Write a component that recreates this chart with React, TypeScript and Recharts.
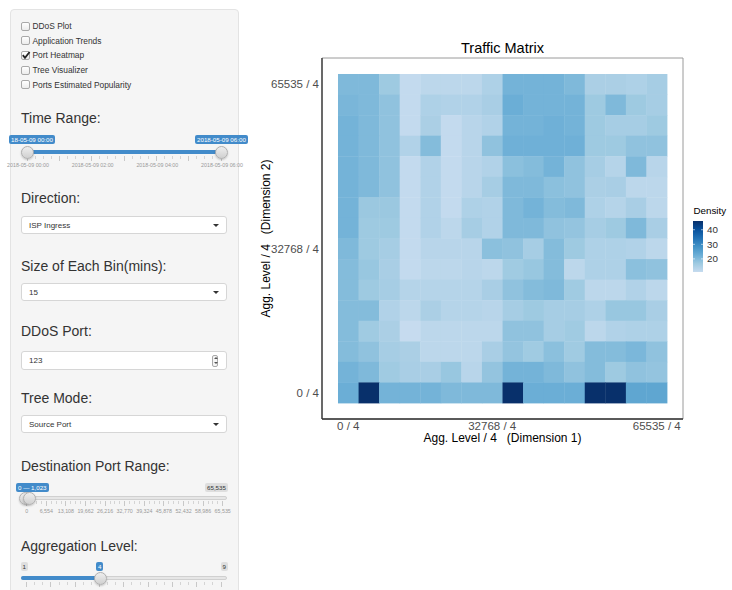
import React from 'react';
import { ScatterChart, Scatter, XAxis, YAxis, ReferenceArea, Label } from 'recharts';

// ---------------- data ----------------
const BIN_INDEX = [0, 1, 2, 3, 4, 5, 6, 7, 8, 9, 10, 11, 12, 13, 14, 15];
const AXIS_TICKS = [0, 7, 15];
const AXIS_TICK_LABELS = ['0 / 4', '32768 / 4', '65535 / 4'];
const LEGEND_BREAKS = [20, 30, 40];
const FILL_LIMITS = [11, 46];

// density per cell, one array per Dimension-2 bin (top row first)
const ROW_15 = [20.4, 20.4, 16.8, 11.5, 12.5, 12.5, 12.5, 14.5, 21.6, 21.6, 21.6, 20.4, 15, 15, 14.5, 15.7];
const ROW_14 = [21, 20.4, 18.4, 11.5, 14.5, 14, 14, 15.3, 22.7, 21.6, 21.6, 21.6, 16.8, 20.4, 16.8, 15.7];
const ROW_13 = [21.6, 20.4, 18.4, 11.5, 15, 11.5, 13, 14, 21.6, 21.6, 22.2, 21.6, 16.8, 15.7, 15.7, 16.8];
const ROW_12 = [21.6, 20.4, 18.4, 14, 19.8, 11.5, 13, 18.4, 22.2, 22.2, 22.2, 22.2, 16.8, 16.8, 18.4, 18.4];
const ROW_11 = [21.6, 20.4, 18.4, 11.5, 14, 11.5, 13, 14, 19, 19.8, 21.6, 18.4, 15.7, 13.5, 20.4, 13];
const ROW_10 = [21.6, 20.4, 18.4, 11.5, 14, 11.5, 13, 15.7, 20.4, 20.4, 19, 18.4, 15, 15.3, 12.5, 12.5];
const ROW_9 = [21.6, 17.2, 17.2, 11.5, 14, 11.5, 14.5, 14, 20.4, 21.6, 19.8, 20.4, 14.5, 13.5, 15.3, 12.5];
const ROW_8 = [21.6, 16.8, 16.8, 11.5, 14, 12.5, 15.7, 14, 20.4, 20.4, 18.4, 18, 15.7, 16.8, 20.4, 15.3];
const ROW_7 = [20.4, 16.8, 15.7, 11.5, 13, 13, 13, 19, 18.4, 15.7, 19.8, 16.8, 14.5, 14.5, 14, 12.5];
const ROW_6 = [19.8, 17.5, 15.3, 11.5, 12.5, 12.5, 13, 12.5, 16.5, 17.5, 19.8, 12.5, 14.5, 14.5, 19, 18.4];
const ROW_5 = [19.8, 16.8, 15.7, 13.5, 13.5, 13.5, 13.5, 15.3, 18.4, 19.8, 20.4, 16.5, 12.5, 12.5, 14, 12.5];
const ROW_4 = [19.8, 19.8, 14, 12.5, 15, 13.5, 13.5, 13, 15.7, 16.8, 15.7, 15.7, 14.5, 17.5, 17.5, 15.3];
const ROW_3 = [19.8, 16.5, 15, 11, 12.5, 12.5, 12.5, 12.5, 18.4, 18.4, 15.7, 16.5, 12.5, 14, 14.5, 14.5];
const ROW_2 = [19.8, 18.4, 15.7, 15, 12.5, 12.5, 12.5, 15.3, 18, 16.5, 19, 16.5, 19.8, 19.8, 20.8, 18.4];
const ROW_1 = [21.6, 20.4, 16.5, 15.3, 15.3, 17.5, 13, 18, 21.6, 21.6, 20.4, 18.4, 19.8, 16.8, 18.4, 18];
const ROW_0 = [22.7, 46, 21.6, 21.6, 21.6, 20.4, 20.4, 20.4, 46, 22.7, 22.7, 22.7, 46, 46, 24.4, 24.4];

const ROWS_TOP_TO_BOTTOM = [
  ROW_15, ROW_14, ROW_13, ROW_12, ROW_11, ROW_10, ROW_9, ROW_8,
  ROW_7, ROW_6, ROW_5, ROW_4, ROW_3, ROW_2, ROW_1, ROW_0,
];

const CELLS = ROWS_TOP_TO_BOTTOM.flatMap((row, r) =>
  row.map((density, c) => ({
    x: BIN_INDEX[c],
    y: BIN_INDEX[BIN_INDEX.length - 1 - r],
    density,
  }))
);

// sidebar content
const CHECKBOX_LABELS = ['DDoS Plot', 'Application Trends', 'Port Heatmap', 'Tree Visualizer', 'Ports Estimated Popularity'];
const CHECKED_LABEL = 'Port Heatmap';
const TIME_GRID_LABELS = ['2018-05-09 00:00', '2018-05-09 02:00', '2018-05-09 04:00', '2018-05-09 06:00'];
const PORT_GRID_LABELS = ['0', '6,554', '13,108', '19,662', '26,216', '32,770', '39,324', '45,878', '52,432', '58,986', '65,535'];

// ---------------- colours ----------------
const BLUES = ['#c6dbef', '#9ecae1', '#6baed6', '#4292c6', '#2171b5', '#08519c', '#08306b'];

function hexToRgb(h: string) {
  const n = parseInt(h.slice(1), 16);
  return [(n >> 16) & 255, (n >> 8) & 255, n & 255];
}
function densityColor(v: number) {
  const t = Math.max(0, Math.min(1, (v - FILL_LIMITS[0]) / (FILL_LIMITS[1] - FILL_LIMITS[0])));
  const pos = t * (BLUES.length - 1);
  const i = Math.min(BLUES.length - 2, Math.floor(pos));
  const f = pos - i;
  const a = hexToRgb(BLUES[i]);
  const b = hexToRgb(BLUES[i + 1]);
  const c = a.map((av, k) => Math.round(av + (b[k] - av) * f));
  return `rgb(${c[0]},${c[1]},${c[2]})`;
}

// ---------------- layout ----------------
const FONT = '"Liberation Sans", Arial, Helvetica, sans-serif';
const CHART_LEFT = 250;
const CHART_W = 482;
const CHART_H = 450;
const Y_AXIS_W = 72;
const PLOT_TOP = 58;
const PLOT_W = 361;
const PLOT_H = 361;
const X_AXIS_H = CHART_H - PLOT_TOP - PLOT_H;
const EXPAND = 0.778;
const D_MIN = BIN_INDEX[0] - 0.5 - EXPAND;
const D_MAX = BIN_INDEX[BIN_INDEX.length - 1] + 0.5 + EXPAND;
const CELL_PX = PLOT_W / (D_MAX - D_MIN);

const tickFmt = (v: number) => AXIS_TICK_LABELS[AXIS_TICKS.indexOf(v)] ?? '';

const renderCell = (props: any) => {
  const { cx, cy, payload } = props;
  if (cx == null || cy == null) return <g />;
  return (
    <rect
      x={cx - CELL_PX / 2}
      y={cy - CELL_PX / 2}
      width={CELL_PX + 0.4}
      height={CELL_PX + 0.4}
      fill={densityColor(payload.density)}
    />
  );
};

// ---------------- sidebar helpers ----------------
const abs = (left: number, top: number, extra: React.CSSProperties = {}): React.CSSProperties => ({
  position: 'absolute',
  left,
  top,
  ...extra,
});

function Heading({ y, text }: { y: number; text: string }) {
  return (
    <div style={abs(21, y - 9, { fontSize: 14, lineHeight: '18px', color: '#333', whiteSpace: 'nowrap' })}>{text}</div>
  );
}

function SelectBox({ top, text }: { top: number; text: string }) {
  return (
    <div
      style={abs(21, top, {
        width: 206,
        height: 18,
        background: '#fff',
        border: '1px solid #d6d6d6',
        borderRadius: 3,
        boxSizing: 'border-box',
      })}
    >
      <div style={abs(7, 0, { fontSize: 8, lineHeight: '17px', color: '#333' })}>{text}</div>
      <div
        style={abs(191, 7, {
          width: 0,
          height: 0,
          borderLeft: '3px solid transparent',
          borderRight: '3px solid transparent',
          borderTop: '3px solid #333',
        })}
      />
    </div>
  );
}

function Bubble({ cx, y, text, blue, left }: { cx?: number; y: number; text: string; blue: boolean; left?: number }) {
  const w = text.length * 3.25 + 4;
  const l = left != null ? left : (cx as number) - w / 2;
  return (
    <div
      style={abs(l, y - 4.5, {
        height: 9,
        padding: '0 2px',
        background: blue ? '#428bca' : '#dedede',
        color: blue ? '#fff' : '#333',
        fontSize: 6.2,
        lineHeight: '9px',
        borderRadius: 2,
        whiteSpace: 'nowrap',
      })}
    >
      {text}
    </div>
  );
}

function Handle({ cx, cy, d = 13 }: { cx: number; cy: number; d?: number }) {
  return (
    <div
      style={abs(cx - d / 2, cy - d / 2, {
        width: d,
        height: d,
        borderRadius: '50%',
        background: 'linear-gradient(#eeeeee, #d0d0d0)',
        border: '1px solid #b0b0b0',
        boxSizing: 'border-box',
        boxShadow: '0 1px 2px rgba(0,0,0,0.2)',
      })}
    />
  );
}

function Grid({ x0, x1, y, bigN, smallN }: { x0: number; x1: number; y: number; bigN: number; smallN: number }) {
  const out: React.ReactNode[] = [];
  const bw = (x1 - x0) / bigN;
  for (let i = 0; i <= bigN; i++) {
    const bx = x0 + i * bw;
    out.push(<div key={'b' + i} style={abs(bx - 0.5, y, { width: 1, height: 5, background: '#c8c8c8' })} />);
    if (i < bigN) {
      for (let s = 1; s <= smallN; s++) {
        const sx = bx + (s * bw) / (smallN + 1);
        out.push(<div key={'s' + i + '-' + s} style={abs(sx - 0.5, y, { width: 1, height: 3, background: '#d4d4d4' })} />);
      }
    }
  }
  return <>{out}</>;
}

function GridLabels({ x0, x1, y, labels }: { x0: number; x1: number; y: number; labels: string[] }) {
  const step = (x1 - x0) / (labels.length - 1);
  return (
    <>
      {labels.map((l, i) => (
        <div
          key={l + i}
          style={abs(x0 + i * step - 30, y - 4, {
            width: 60,
            textAlign: 'center',
            fontSize: 5.3,
            lineHeight: '8px',
            color: '#999',
            whiteSpace: 'nowrap',
          })}
        >
          {l}
        </div>
      ))}
    </>
  );
}

function Sidebar() {
  return (
    <div
      style={abs(10, 9, {
        width: 229,
        height: 600,
        background: '#f5f5f5',
        border: '1px solid #e3e3e3',
        borderRadius: 4,
        boxSizing: 'border-box',
      })}
    >
      {/* children positioned relative to page: offset wrapper */}
      <div style={abs(-11, -10)}>
        {CHECKBOX_LABELS.map((label, i) => {
          const cy = 26 + i * 14.7;
          const checked = label === CHECKED_LABEL;
          return (
            <React.Fragment key={label}>
              <div
                style={abs(21, cy - 4.5, {
                  width: 9,
                  height: 9,
                  border: '1px solid #a9a9a9',
                  borderRadius: 2,
                  background: 'linear-gradient(#ffffff, #ececec)',
                  boxSizing: 'border-box',
                })}
              />
              {checked && (
                <svg style={abs(21, cy - 5.5)} width={10} height={10}>
                  <path d="M1.8 5.2 L4 7.8 L8.6 2" stroke="#222" strokeWidth={1.8} fill="none" />
                </svg>
              )}
              <div
                style={abs(32.5, cy - 6, {
                  fontSize: 8.4,
                  lineHeight: '12px',
                  color: '#333',
                  whiteSpace: 'nowrap',
                })}
              >
                {label}
              </div>
            </React.Fragment>
          );
        })}

        <Heading y={118} text="Time Range:" />
        {/* time slider */}
        <div style={abs(21, 150, { width: 206, height: 4, background: '#dcdcdc', borderRadius: 2 })} />
        <div style={abs(27, 150, { width: 194, height: 4, background: '#428bca' })} />
        <Grid x0={27} x1={221} y={156} bigN={6} smallN={3} />
        <GridLabels x0={28} x1={222} y={165} labels={TIME_GRID_LABELS} />
        <Bubble left={9} y={139.5} text="18-05-09 00:00" blue />
        <Bubble left={195} y={139.5} text="2018-05-09 06:00" blue />
        <Handle cx={27} cy={152} />
        <Handle cx={221} cy={152} />

        <Heading y={198} text="Direction:" />
        <SelectBox top={216} text="ISP Ingress" />

        <Heading y={266} text="Size of Each Bin(mins):" />
        <SelectBox top={283} text="15" />

        <Heading y={331} text="DDoS Port:" />
        <div
          style={abs(21, 351, {
            width: 206,
            height: 19,
            background: '#fff',
            border: '1px solid #d6d6d6',
            borderRadius: 3,
            boxSizing: 'border-box',
          })}
        >
          <div style={abs(7, 0, { fontSize: 8, lineHeight: '17px', color: '#333' })}>123</div>
          <div
            style={abs(190, 2.5, {
              width: 6,
              height: 12,
              border: '1px solid #aaa',
              borderRadius: 2,
              boxSizing: 'border-box',
              background: '#f4f4f4',
            })}
          >
            <div style={abs(0.5, 1.5, { width: 0, height: 0, borderLeft: '2px solid transparent', borderRight: '2px solid transparent', borderBottom: '2px solid #555' })} />
            <div style={abs(0.5, 6.5, { width: 0, height: 0, borderLeft: '2px solid transparent', borderRight: '2px solid transparent', borderTop: '2px solid #555' })} />
          </div>
        </div>

        <Heading y={398} text="Tree Mode:" />
        <SelectBox top={414.5} text="Source Port" />

        <Heading y={466} text="Destination Port Range:" />
        <div style={abs(21, 496, { width: 206, height: 4, background: '#e6e6e6', border: '1px solid #d0d0d0', borderRadius: 3, boxSizing: 'border-box' })} />
        <Grid x0={26.7} x1={222.7} y={501} bigN={10} smallN={3} />
        <GridLabels x0={26.7} x1={222.7} y={511} labels={PORT_GRID_LABELS} />
        <Bubble left={16} y={487} text="0 — 1,023" blue />
        <Bubble left={205} y={487} text="65,535" blue={false} />
        <Handle cx={25.5} cy={498} />
        <Handle cx={29.5} cy={498} />

        <Heading y={546} text="Aggregation Level:" />
        <div style={abs(21, 576, { width: 206, height: 4, background: '#e6e6e6', border: '1px solid #d0d0d0', borderRadius: 3, boxSizing: 'border-box' })} />
        <div style={abs(21, 576, { width: 79, height: 4, background: '#428bca', borderRadius: 2 })} />
        <Grid x0={26.7} x1={221} y={582} bigN={8} smallN={2} />
        <Bubble left={20.5} y={566} text="1" blue={false} />
        <Bubble left={96} y={566} text="4" blue />
        <Bubble left={220.5} y={566} text="9" blue={false} />
        <Handle cx={100} cy={578} />
      </div>
    </div>
  );
}

// ---------------- legend ----------------
const LEG_TOP = 221;
const LEG_H = 51;
const LEG_W = 10;
const legY = (v: number) => ((FILL_LIMITS[1] - v) / (FILL_LIMITS[1] - FILL_LIMITS[0])) * LEG_H;

function DensityLegend() {
  return (
    <>
      <div style={abs(693.5, 205, { fontSize: 9.8, lineHeight: '12px', color: '#000', fontFamily: FONT })}>Density</div>
      <svg style={abs(693, LEG_TOP)} width={36} height={LEG_H + 4}>
        <defs>
          <linearGradient id="densGrad" x1="0" y1="1" x2="0" y2="0">
            {BLUES.map((c, i) => (
              <stop key={c} offset={i / (BLUES.length - 1)} stopColor={c} />
            ))}
          </linearGradient>
        </defs>
        <rect x={0} y={0} width={LEG_W} height={LEG_H} fill="url(#densGrad)" />
        {LEGEND_BREAKS.map((b) => (
          <g key={b}>
            <line x1={0} x2={2} y1={legY(b)} y2={legY(b)} stroke="#fff" strokeWidth={0.6} />
            <line x1={LEG_W - 2} x2={LEG_W} y1={legY(b)} y2={legY(b)} stroke="#fff" strokeWidth={0.6} />
            <text x={14} y={legY(b) + 3.5} fontSize={9.8} fill="#333" fontFamily={FONT}>
              {b}
            </text>
          </g>
        ))}
      </svg>
    </>
  );
}

// ---------------- app ----------------
export default function App() {
  return (
    <div style={{ position: 'absolute', left: 0, top: 0, width: 732, height: 590, overflow: 'hidden', background: '#fff', fontFamily: FONT }}>
      <Sidebar />

      <div style={abs(CHART_LEFT + Y_AXIS_W, 40, { width: PLOT_W, textAlign: 'center', fontSize: 14.5, lineHeight: '17px', color: '#000' })}>
        Traffic Matrix
      </div>

      <div style={abs(CHART_LEFT, 0)}>
        <ScatterChart
          width={CHART_W}
          height={CHART_H}
          margin={{ top: PLOT_TOP, right: CHART_W - Y_AXIS_W - PLOT_W, bottom: 0, left: 0 }}
          style={{ fontFamily: FONT }}
        >
          <ReferenceArea
            x1={D_MIN}
            x2={D_MAX}
            y1={D_MIN}
            y2={D_MAX}
            fill="#ffffff"
            fillOpacity={1}
            stroke="#9a9a9a"
            strokeWidth={1}
            ifOverflow="visible"
          />
          <XAxis
            type="number"
            dataKey="x"
            domain={[D_MIN, D_MAX]}
            allowDataOverflow
            ticks={AXIS_TICKS}
            interval={0}
            tickFormatter={tickFmt}
            tickLine={false}
            tickSize={0}
            tickMargin={3}
            height={X_AXIS_H}
            axisLine={{ stroke: '#333', strokeWidth: 1.3 }}
            tick={{ fill: '#4d4d4d', fontSize: 11.5 }}
          >
            <Label
              value={'Agg. Level / 4\u00a0\u00a0\u00a0(Dimension 1)'}
              position="insideBottom"
              offset={8}
              style={{ fill: '#000', fontSize: 12 }}
            />
          </XAxis>
          <YAxis
            type="number"
            dataKey="y"
            domain={[D_MIN, D_MAX]}
            allowDataOverflow
            ticks={AXIS_TICKS}
            interval={0}
            tickFormatter={tickFmt}
            tickLine={false}
            tickSize={0}
            tickMargin={3}
            width={Y_AXIS_W}
            axisLine={{ stroke: '#333', strokeWidth: 1.3 }}
            tick={{ fill: '#4d4d4d', fontSize: 11.5 }}
          >
            <Label
              value={'Agg. Level / 4\u00a0\u00a0\u00a0(Dimension 2)'}
              angle={-90}
              position="insideLeft"
              offset={16}
              style={{ fill: '#000', fontSize: 12, textAnchor: 'middle' }}
            />
          </YAxis>
          <Scatter data={CELLS} shape={renderCell} isAnimationActive={false} />
        </ScatterChart>
      </div>

      <DensityLegend />
    </div>
  );
}
